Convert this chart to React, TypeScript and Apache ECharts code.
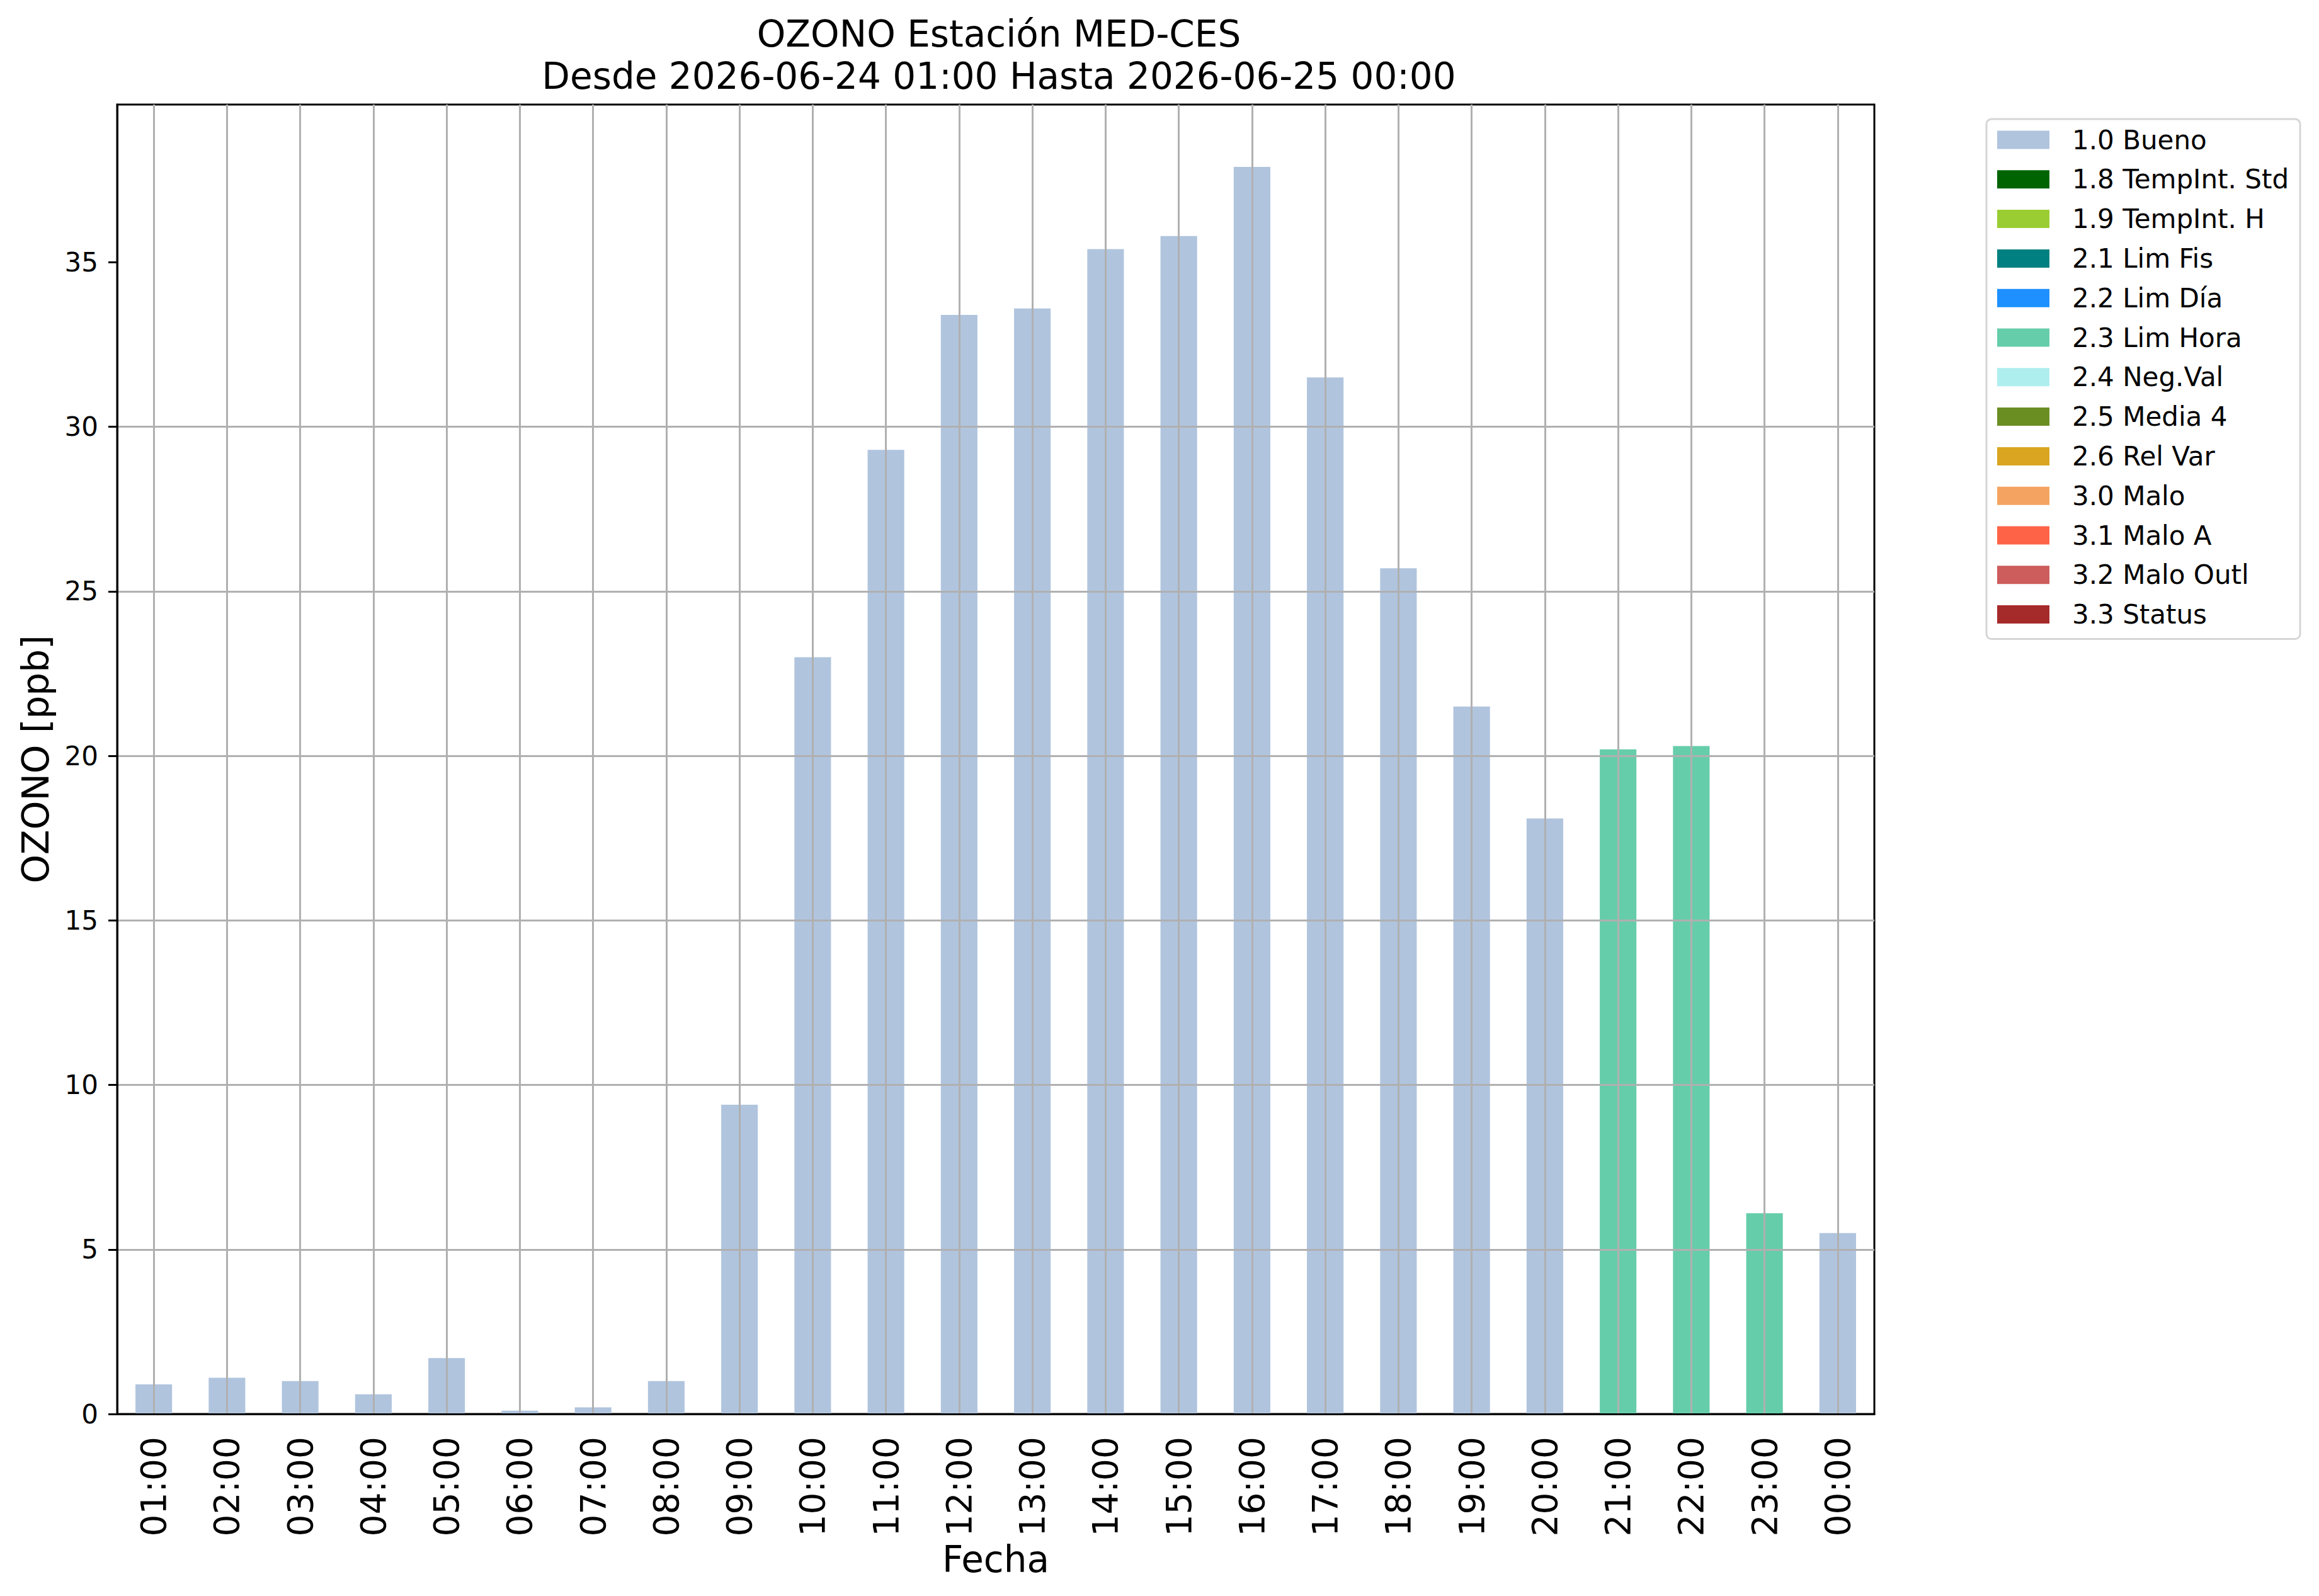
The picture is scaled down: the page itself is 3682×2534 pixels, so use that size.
import React, { useEffect, useRef } from "react";
import * as echarts from "echarts";

const hours = [
  "01:00", "02:00", "03:00", "04:00", "05:00", "06:00", "07:00", "08:00",
  "09:00", "10:00", "11:00", "12:00", "13:00", "14:00", "15:00", "16:00",
  "17:00", "18:00", "19:00", "20:00", "21:00", "22:00", "23:00", "00:00",
];

const ozone = [
  0.9, 1.1, 1.0, 0.6, 1.7, 0.1, 0.2, 1.0,
  9.4, 23.0, 29.3, 33.4, 33.6, 35.4, 35.8, 37.9,
  31.5, 25.7, 21.5, 18.1, 20.2, 20.3, 6.1, 5.5,
];

const flagOfHour = [
  "1.0 Bueno", "1.0 Bueno", "1.0 Bueno", "1.0 Bueno", "1.0 Bueno", "1.0 Bueno",
  "1.0 Bueno", "1.0 Bueno", "1.0 Bueno", "1.0 Bueno", "1.0 Bueno", "1.0 Bueno",
  "1.0 Bueno", "1.0 Bueno", "1.0 Bueno", "1.0 Bueno", "1.0 Bueno", "1.0 Bueno",
  "1.0 Bueno", "1.0 Bueno", "2.3 Lim Hora", "2.3 Lim Hora", "2.3 Lim Hora", "1.0 Bueno",
];

const flagNames = [
  "1.0 Bueno", "1.8 TempInt. Std", "1.9 TempInt. H", "2.1 Lim Fis", "2.2 Lim Día",
  "2.3 Lim Hora", "2.4 Neg.Val", "2.5 Media 4", "2.6 Rel Var", "3.0 Malo",
  "3.1 Malo A", "3.2 Malo Outl", "3.3 Status",
];

const flagColors = [
  "#B0C4DE", "#006400", "#9ACD32", "#008080", "#1E90FF",
  "#66CDAA", "#AFEEEE", "#6B8E23", "#DAA520", "#F4A460",
  "#FF6347", "#CD5C5C", "#A52A2A",
];

const yTicks = [0, 5, 10, 15, 20, 25, 30, 35];
const yMax = 39.795;

const titleText = "OZONO Estación MED-CES\nDesde 2026-06-24 01:00 Hasta 2026-06-25 00:00";
const xName = "Fecha";
const yName = "OZONO [ppb]";

const FONT = "DejaVu Sans";

export default function App() {
  const ref = useRef<HTMLDivElement>(null);

  useEffect(() => {
    if (!ref.current) return;
    const chart = echarts.init(ref.current, null, { renderer: "svg" });
    const black = { color: "#000", width: 3 };
    const gridLine = { color: "#b0b0b0", width: 3 };

    chart.setOption({
      animation: false,
      backgroundColor: "#ffffff",
      textStyle: { fontFamily: FONT },
      title: {
        text: titleText,
        left: 1581,
        top: 15,
        textAlign: "center",
        textStyle: {
          fontFamily: FONT,
          fontSize: 58,
          fontWeight: "normal",
          lineHeight: 67,
          color: "#000",
        },
      },
      grid: {
        left: 186,
        right: 706,
        top: 166,
        bottom: 289,
        show: true,
        borderColor: "#000",
        borderWidth: 3,
        backgroundColor: "#fff",
        outerBoundsMode: "none",
      },
      legend: {
        orient: "vertical",
        left: 3154,
        top: 189,
        icon: "rect",
        itemWidth: 83,
        itemHeight: 29,
        itemGap: 20.8,
        padding: [12, 18, 18, 17],
        borderColor: "#d6d6d6",
        borderWidth: 3,
        borderRadius: 8,
        backgroundColor: "#fff",
        selectedMode: false,
        data: flagNames,
        textStyle: {
          fontFamily: FONT,
          fontSize: 42,
          color: "#000",
          padding: [0, 0, 0, 31],
        },
      },
      xAxis: {
        type: "category",
        data: hours,
        z: 3,
        axisLine: { lineStyle: black },
        axisTick: { alignWithLabel: true, length: 14, interval: 0, lineStyle: black },
        axisLabel: {
          rotate: 90,
          interval: 0,
          fontFamily: FONT,
          fontSize: 55,
          color: "#000",
          margin: 36,
        },
        splitLine: { show: true, interval: 0, alignWithLabel: true, lineStyle: gridLine },
        name: xName,
        nameLocation: "middle",
        nameGap: 191,
        nameTextStyle: { fontFamily: FONT, fontSize: 58, color: "#000" },
      },
      yAxis: {
        type: "value",
        min: 0,
        max: yMax,
        interval: 5,
        z: 3,
        axisLine: { show: true, lineStyle: black },
        axisTick: { show: true, length: 14, customValues: yTicks, lineStyle: black },
        axisLabel: {
          customValues: yTicks,
          fontFamily: FONT,
          fontSize: 42,
          color: "#000",
          margin: 30,
        },
        splitLine: { show: true, showMinLine: false, showMaxLine: false, lineStyle: gridLine },
        name: yName,
        nameLocation: "middle",
        nameRotate: 90,
        nameGap: 100,
        nameTextStyle: { fontFamily: FONT, fontSize: 58, color: "#000" },
      },
      series: flagNames.map((name, k) => ({
        name,
        type: "bar",
        stack: "quality",
        barWidth: "50%",
        itemStyle: { color: flagColors[k] },
        data: ozone.map((v, i) => (flagOfHour[i] === name ? v : null)),
      })),
    });

    return () => chart.dispose();
  }, []);

  return (
    <div
      ref={ref}
      style={{ position: "absolute", left: 0, top: 0, width: 3682, height: 2534 }}
    />
  );
}
